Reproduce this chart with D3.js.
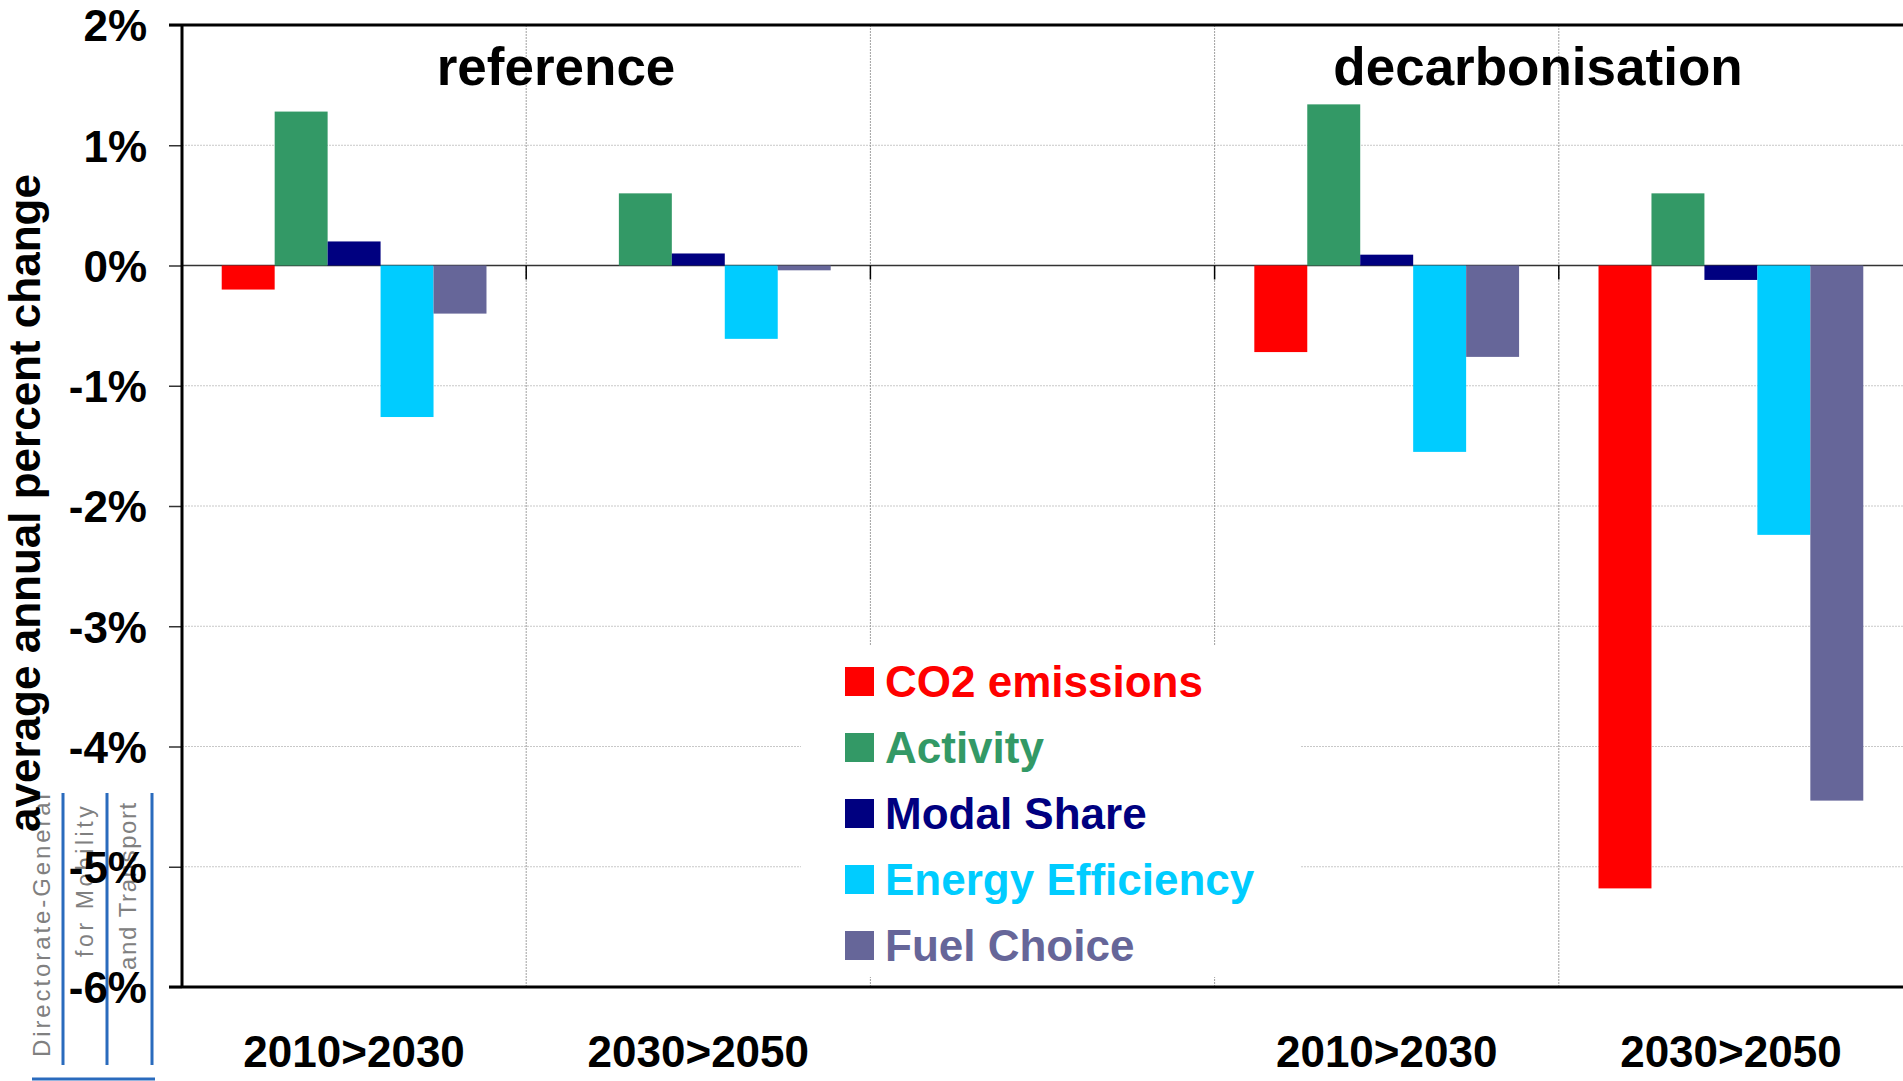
<!DOCTYPE html>
<html>
<head>
    <title>Transport CO2 decomposition</title>
    <script src="https://cdnjs.cloudflare.com/ajax/libs/d3/7.8.5/d3.min.js"></script>
    <style>
        body{
            margin: 0;
            background: #fff;
        }
        svg text{
            font-family: "Liberation Sans", Arial, sans-serif;
        }
    </style>
</head>
<body>
    <svg id="chart" width="1903" height="1081"></svg>
    <script>
        // periods on the x axis (third slot is the empty gap between scenarios)
        var periods = ["2010>2030", "2030>2050", "", "2010>2030", "2030>2050"];
        var scenarios = ["reference", "decarbonisation"];
        var seriesNames = ["CO2 emissions", "Activity", "Modal Share", "Energy Efficiency", "Fuel Choice"];
        var seriesColors = ["#ff0000", "#339966", "#000080", "#00ccff", "#666699"];

        var co2 = [-0.20, 0.00, null, -0.72, -5.18];
        var activity = [1.28, 0.60, null, 1.34, 0.60];
        var modalShare = [0.20, 0.10, null, 0.09, -0.12];
        var efficiency = [-1.26, -0.61, null, -1.55, -2.24];
        var fuelChoice = [-0.40, -0.04, null, -0.76, -4.45];

        var yTicks = [-6, -5, -4, -3, -2, -1, 0, 1, 2];

        var allSeries = [co2, activity, modalShare, efficiency, fuelChoice];

        var svg = d3.select("#chart");
        var plotLeft = 182, plotRight = 1903, plotTop = 25, plotBottom = 987;

        var yScale = d3.scaleLinear().domain([-6, 2]).range([plotBottom, plotTop]);
        var x0 = d3.scaleBand().domain(d3.range(periods.length)).range([plotLeft, plotRight]);
        var x1 = d3.scaleBand().domain(d3.range(seriesNames.length))
                    .range([0, x0.bandwidth()]).paddingOuter(0.75);

        // logo in the lower left corner
        var logo = svg.append("g");
        var logoLines = [
            {text: "Directorate-General", x: 50, y: 1057, size: 24, sp: 2.9},
            {text: "for Mobility", x: 93, y: 957, size: 23, sp: 3.6},
            {text: "and Transport", x: 136, y: 970, size: 24, sp: 1.6}
        ];
        logo.selectAll("text").data(logoLines).enter().append("text")
            .attr("transform", d => `translate(${d.x},${d.y}) rotate(-90)`)
            .attr("font-size", d => d.size)
            .attr("letter-spacing", d => d.sp)
            .attr("fill", "#808080")
            .text(d => d.text);
        logo.selectAll("line.v").data([63, 107, 152]).enter().append("line")
            .attr("x1", d => d).attr("x2", d => d)
            .attr("y1", 793).attr("y2", 1065)
            .attr("stroke", "#2a6bbd").attr("stroke-width", 3);
        logo.append("line")
            .attr("x1", 32).attr("x2", 155).attr("y1", 1079).attr("y2", 1079)
            .attr("stroke", "#2a6bbd").attr("stroke-width", 3);

        // gridlines
        svg.append("g").selectAll("line").data(yTicks.filter(d => d != 0 && d != 2 && d != -6)).enter()
            .append("line")
            .attr("x1", plotLeft).attr("x2", plotRight)
            .attr("y1", d => yScale(d)).attr("y2", d => yScale(d))
            .attr("stroke", "#c8c8c8").attr("stroke-dasharray", "2,1");

        svg.append("g").selectAll("line").data(d3.range(1, periods.length)).enter()
            .append("line")
            .attr("x1", d => x0(d)).attr("x2", d => x0(d))
            .attr("y1", plotTop).attr("y2", plotBottom)
            .attr("stroke", "#a0a0a0").attr("stroke-dasharray", "2,1");

        // legend background hides the grid
        var legend = svg.append("g").attr("transform", "translate(801,645)");
        legend.append("rect").attr("width", 500).attr("height", 332).attr("fill", "#fff");

        // zero line and small ticks at the category boundaries
        svg.append("line")
            .attr("x1", plotLeft).attr("x2", plotRight)
            .attr("y1", yScale(0)).attr("y2", yScale(0))
            .attr("stroke", "#333").attr("stroke-width", 1.5);
        svg.append("g").selectAll("line").data(d3.range(1, periods.length)).enter()
            .append("line")
            .attr("x1", d => x0(d)).attr("x2", d => x0(d))
            .attr("y1", yScale(0)).attr("y2", yScale(0) + 14)
            .attr("stroke", "#000").attr("stroke-width", 1.5);

        // bars
        var groups = svg.append("g").selectAll("g").data(allSeries).enter()
            .append("g")
            .attr("fill", (d, i) => seriesColors[i])
            .attr("transform", (d, i) => `translate(${x1(i)},0)`);

        groups.selectAll("rect")
            .data(d => d.map((v, j) => ({v: v, j: j})).filter(o => o.v !== null))
            .enter()
            .append("rect")
            .attr("x", o => x0(o.j))
            .attr("width", x1.bandwidth())
            .attr("y", o => yScale(Math.max(0, o.v)))
            .attr("height", o => Math.abs(yScale(o.v) - yScale(0)));

        // y axis
        var yAxis = d3.axisLeft(yScale)
                      .tickValues(yTicks)
                      .tickFormat(d => d + "%")
                      .tickSize(13)
                      .tickPadding(22);
        var yAxisG = svg.append("g")
            .attr("transform", `translate(${plotLeft},0)`)
            .call(yAxis);
        yAxisG.select(".domain").remove();
        yAxisG.selectAll("line").attr("stroke", "#333").attr("stroke-width", 1.5);
        yAxisG.selectAll("text")
            .attr("font-family", "Liberation Sans, Arial, sans-serif")
            .attr("font-size", 44)
            .attr("font-weight", "bold")
            .attr("fill", "#000")
            .attr("dy", "0.36em");

        // frame
        svg.append("line").attr("x1", plotLeft).attr("x2", plotLeft).attr("y1", plotTop).attr("y2", plotBottom)
            .attr("stroke", "#000").attr("stroke-width", 3);
        svg.append("line").attr("x1", plotLeft - 13).attr("x2", plotRight).attr("y1", plotTop).attr("y2", plotTop)
            .attr("stroke", "#000").attr("stroke-width", 3);
        svg.append("line").attr("x1", plotLeft - 13).attr("x2", plotRight).attr("y1", plotBottom).attr("y2", plotBottom)
            .attr("stroke", "#000").attr("stroke-width", 3);

        // category labels
        svg.append("g").selectAll("text").data(periods).enter()
            .append("text")
            .attr("x", (d, i) => x0(i) + x0.bandwidth() / 2)
            .attr("y", 1067)
            .attr("text-anchor", "middle")
            .attr("font-size", 44)
            .attr("font-weight", "bold")
            .text(d => d);

        // scenario titles
        svg.append("g").selectAll("text").data(scenarios).enter()
            .append("text")
            .attr("x", (d, i) => i == 0 ? 556 : 1538)
            .attr("y", 85)
            .attr("text-anchor", "middle")
            .attr("font-size", 53)
            .attr("font-weight", "bold")
            .text(d => d);

        // y axis title
        svg.append("text")
            .attr("transform", "translate(40,503) rotate(-90)")
            .attr("text-anchor", "middle")
            .attr("font-size", 44)
            .attr("font-weight", "bold")
            .text("average annual percent change");

        // legend items
        var items = legend.selectAll("g.item").data(seriesNames).enter()
            .append("g")
            .attr("transform", (d, i) => `translate(0,${i * 66})`);
        items.append("rect")
            .attr("x", 44).attr("y", 22)
            .attr("width", 29).attr("height", 29)
            .attr("fill", (d, i) => seriesColors[i]);
        items.append("text")
            .attr("x", 84).attr("y", 52)
            .attr("font-size", 44)
            .attr("font-weight", "bold")
            .attr("fill", (d, i) => seriesColors[i])
            .text(d => d);
    </script>
</body>
</html>
